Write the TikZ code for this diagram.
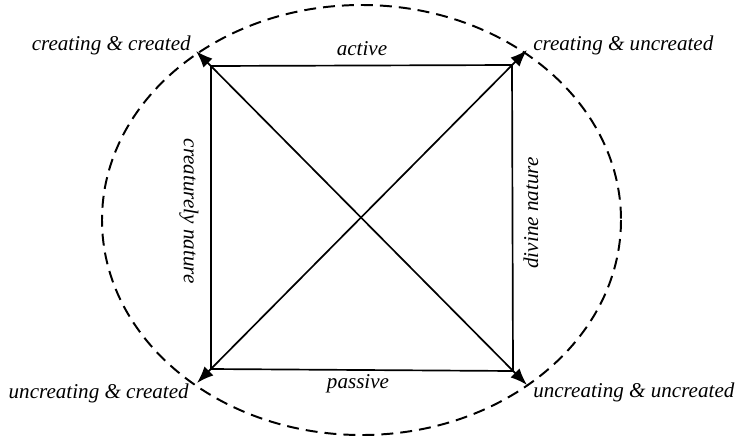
\documentclass[tikz,border=0pt]{standalone}
\usepackage{fontspec}
\setmainfont{Liberation Serif}
\usetikzlibrary{arrows.meta}
\tikzset{lbl/.style={font=\itshape\fontsize{15}{18}\selectfont,inner sep=0pt},side/.style={line width=1.2pt,black},diag/.style={{Latex[length=12pt,width=9pt]}-{Latex[length=12pt,width=9pt]},line width=1.2pt,black},rim/.style={dash pattern=on 8.5pt off 5pt,line width=1.4pt,black}}

\begin{document}
\begin{tikzpicture}[x=0.025cm,y=-0.025cm]
\useasboundingbox (0,0) rectangle (742,442);
% corners of the square and the tips of the arrows
\coordinate (cc) at (211,66); \coordinate (cu) at (512,65);
\coordinate (uc) at (211,369); \coordinate (uu) at (513,371);
\coordinate (cctip) at (196,51); \coordinate (cutip) at (527,50);
\coordinate (uctip) at (197,383); \coordinate (uutip) at (527,385);
\draw[rim] (361.5,220) ellipse [x radius=259.5,y radius=215];
\draw[side] (cc)--(cu)--(uu)--(uc)--cycle;
\draw[diag] (cctip)--(uutip); \draw[diag] (uctip)--(cutip);
\node[lbl,anchor=base east] (cclbl) at (191,50) {creating \& created};
\node[lbl,anchor=base west] (culbl) at (533,50) {creating \& uncreated};
\node[lbl,anchor=base east] (uclbl) at (189,398) {uncreating \& created};
\node[lbl,anchor=base west] (uulbl) at (533,397) {uncreating \& uncreated};
\node[lbl,anchor=base] (active) at (362,55) {active};
\node[lbl,anchor=base] (passive) at (358,388) {passive};
\node[lbl,rotate=-90] (creat) at (189,211) {creaturely nature};
\node[lbl,rotate=90] (divine) at (531,213) {divine nature};
\end{tikzpicture}
\end{document}
